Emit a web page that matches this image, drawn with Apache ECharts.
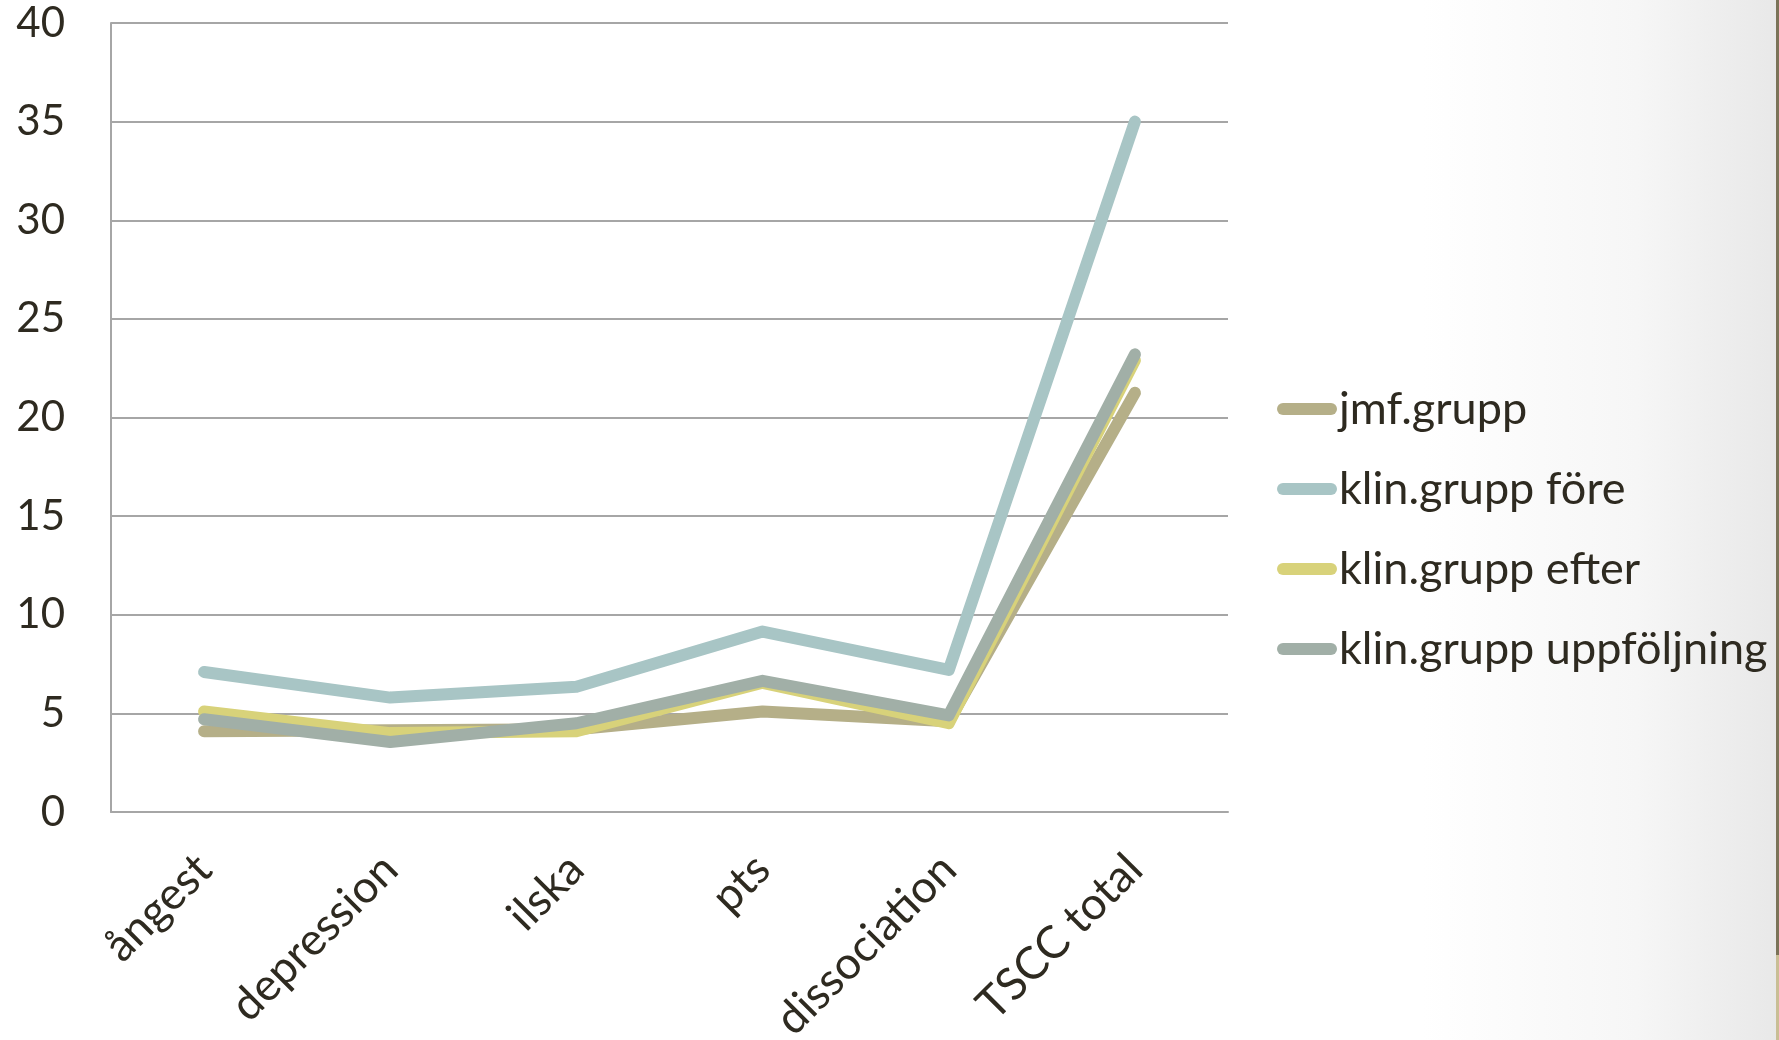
<!DOCTYPE html>
<html>
<head>
<meta charset="utf-8">
<script src="https://cdn.jsdelivr.net/npm/echarts@6/dist/echarts.min.js"></script>
<style>
html,body{margin:0;padding:0;background:#fff;}
#c{width:1779px;height:1040px;}
</style>
</head>
<body>
<div id="c"></div>
<script>
const categories = ['ångest', 'depression', 'ilska', 'pts', 'dissociation', 'TSCC total'];
const seriesNames = ['jmf.grupp', 'klin.grupp före', 'klin.grupp efter', 'klin.grupp uppföljning'];
const jmfGrupp = [4.1, 4.15, 4.2, 5.1, 4.6, 21.25];
const klinFore = [7.1, 5.8, 6.35, 9.15, 7.2, 35.0];
const klinEfter = [5.1, 4.0, 4.1, 6.55, 4.5, 22.9];
const klinUppf = [4.7, 3.55, 4.5, 6.65, 4.9, 23.2];
const yTicks = [0, 5, 10, 15, 20, 25, 30, 35, 40];

const colors = ['#B5AF88', '#A8C5C5', '#D8D27A', '#A1AFA7'];
const allData = [jmfGrupp, klinFore, klinEfter, klinUppf];
const textColor = '#2E2A20';
const font = 'Lato';
const capsule = 'path://M6,0 L54,0 A6,6 0 0 1 54,12 L6,12 A6,6 0 0 1 6,0 Z';

const chart = echarts.init(document.getElementById('c'));
chart.setOption({
  animation: false,
  backgroundColor: 'transparent',
  textStyle: { fontFamily: font },
  graphic: [
    {
      type: 'rect', z: -10, silent: true,
      shape: { x: 0, y: 0, width: 1779, height: 1040 },
      style: {
        fill: new echarts.graphic.LinearGradient(0, 0, 1, 0, [
          { offset: 0, color: '#ffffff' },
          { offset: 0.8, color: '#ffffff' },
          { offset: 0.92, color: '#F6F6F6' },
          { offset: 1, color: '#E8E8E8' }
        ])
      }
    },
    {
      type: 'rect', z: -9, silent: true,
      shape: { x: 1776, y: 0, width: 3, height: 955 },
      style: { fill: '#7B7358' }
    },
    {
      type: 'rect', z: -9, silent: true,
      shape: { x: 1776, y: 955, width: 3, height: 85 },
      style: { fill: '#C9BE95' }
    }
  ],
  legend: {
    orient: 'vertical',
    left: 1272,
    top: 381,
    itemWidth: 60,
    itemHeight: 12,
    itemGap: 34,
    icon: capsule,
    textStyle: { fontFamily: font, fontSize: 45, color: textColor, lineHeight: 46, padding: [0, 0, 0, -3] },
    data: seriesNames.map((n, i) => ({ name: n, itemStyle: { color: colors[i] } }))
  },
  grid: { left: 111, right: 551, top: 23, bottom: 228, containLabel: false, outerBoundsMode: 'none' },
  xAxis: {
    type: 'category',
    data: categories,
    boundaryGap: true,
    axisLine: { lineStyle: { color: '#A6A6A6', width: 2 } },
    axisTick: { show: false },
    axisLabel: { rotate: 45, fontSize: 45, color: textColor, fontFamily: font, margin: 50, interval: 0 }
  },
  yAxis: {
    type: 'value',
    min: yTicks[0],
    max: yTicks[yTicks.length - 1],
    interval: 5,
    axisLine: { show: true, lineStyle: { color: '#A6A6A6', width: 2 } },
    axisTick: { show: false },
    splitLine: { lineStyle: { color: '#A6A6A6', width: 2 } },
    axisLabel: { fontSize: 42, color: textColor, fontFamily: font, margin: 46, padding: [18, 0, 0, 0] }
  },
  series: seriesNames.map((n, i) => ({
    name: n,
    type: 'line',
    data: allData[i],
    symbol: 'none',
    color: colors[i],
    lineStyle: { width: 12, color: colors[i], cap: 'round', join: 'round' },
    z: 2 + i
  }))
});
</script>
</body>
</html>
